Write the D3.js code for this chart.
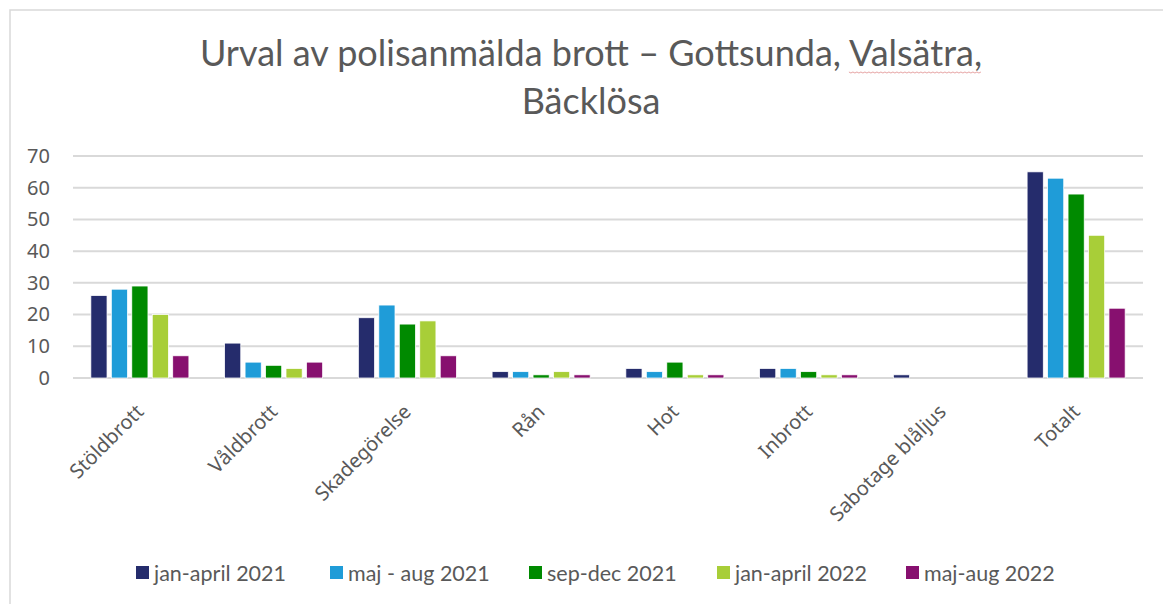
<!DOCTYPE html>
<html>
<head>
<meta charset="utf-8">
<script src="https://cdn.jsdelivr.net/npm/d3@7"></script>
<style>
  body { margin: 0; background: #fff; }
  svg { display: block; }
  .title { font-family: Lato, sans-serif; fill: #595959; }
  .legend text { font-family: Lato, sans-serif; fill: #595959; }
  .tick text { font-family: "Noto Sans", sans-serif; fill: #595959; }
</style>
</head>
<body>
<div id="chart"></div>
<script>
const categories = ['Stöldbrott', 'Våldbrott', 'Skadegörelse', 'Rån', 'Hot', 'Inbrott', 'Sabotage blåljus', 'Totalt'];
const seriesNames = ['jan-april 2021', 'maj - aug 2021', 'sep-dec 2021', 'jan-april 2022', 'maj-aug 2022'];
const janApr2021 = [26, 11, 19, 2, 3, 3, 1, 65];
const majAug2021 = [28, 5, 23, 2, 2, 3, 0, 63];
const sepDec2021 = [29, 4, 17, 1, 5, 2, 0, 58];
const janApr2022 = [20, 3, 18, 2, 1, 1, 0, 45];
const majAug2022 = [7, 5, 7, 1, 1, 1, 0, 22];
const yTicks = [0, 10, 20, 30, 40, 50, 60, 70];
const colors = ['#252c6c', '#1f9cd8', '#008a00', '#a8ce38', '#87106f'];

const seriesValues = [janApr2021, majAug2021, sepDec2021, janApr2022, majAug2022];

const W = 1163, H = 604;
const margin = { top: 156, right: 20, bottom: 226, left: 73 };
const width = 1143 - margin.left;
const height = H - margin.top - margin.bottom;

const svg = d3.select('#chart').append('svg')
  .attr('width', W)
  .attr('height', H);

// chart frame
svg.append('rect')
  .attr('x', 10).attr('y', 10)
  .attr('width', W + 10).attr('height', H + 10)
  .attr('fill', '#fff')
  .attr('stroke', '#d9d9d9')
  .attr('stroke-width', 1.5);

// title
const title = svg.append('text')
  .attr('class', 'title')
  .attr('text-anchor', 'middle')
  .style('font-size', '36px');
title.append('tspan').attr('x', 591).attr('y', 66)
  .text('Urval av polisanmälda brott – Gottsunda, Valsätra,');
title.append('tspan').attr('x', 591).attr('y', 114)
  .text('Bäcklösa');

// spell-check squiggle under "Valsätra"
const line1 = title.select('tspan').node();
const full = line1.textContent;
const start = full.indexOf('Valsätra');
const x0 = line1.getStartPositionOfChar(start).x;
const x1 = line1.getEndPositionOfChar(start + 'Valsätra,'.length - 1).x;
const wave = d3.range(x0, x1, 2).map((x, i) => [x, 72 + (i % 2 ? 1 : 0)]);
svg.append('path')
  .attr('d', d3.line()(wave))
  .attr('fill', 'none')
  .attr('stroke', '#e7a3a3')
  .attr('stroke-width', 1);

const g = svg.append('g')
  .attr('transform', `translate(${margin.left},${margin.top})`);

const x0Scale = d3.scaleBand()
  .domain(categories)
  .range([0, width])
  .paddingInner(0.267)
  .paddingOuter(0.1335);

const x1Scale = d3.scaleBand()
  .domain(seriesNames)
  .range([0, x0Scale.bandwidth()])
  .paddingInner(0.21);

const y = d3.scaleLinear().domain([0, 70]).range([height, 0]);

// gridlines
g.append('g')
  .selectAll('line')
  .data(yTicks)
  .join('line')
  .attr('x1', 0).attr('x2', width)
  .attr('y1', (d) => y(d)).attr('y2', (d) => y(d))
  .attr('stroke', '#d9d9d9')
  .attr('stroke-width', 2);

// y axis labels
const yAxis = g.append('g')
  .call(d3.axisLeft(y).tickValues(yTicks).tickSize(0).tickPadding(23));
yAxis.select('.domain').remove();
yAxis.selectAll('.tick text')
  .style('font-size', '20px')
  .attr('font-family', null);

// bars
const groups = g.append('g')
  .selectAll('g')
  .data(categories)
  .join('g')
  .attr('transform', (d) => `translate(${x0Scale(d)},0)`);

groups.selectAll('rect')
  .data((c, ci) => seriesNames.map((s, si) => ({ s, si, v: seriesValues[si][ci] })))
  .join('rect')
  .filter((d) => d.v > 0)
  .attr('x', (d) => x1Scale(d.s))
  .attr('y', (d) => y(d.v))
  .attr('width', x1Scale.bandwidth())
  .attr('height', (d) => y(0) - y(d.v))
  .attr('fill', (d) => colors[d.si])
  .attr('stroke', '#fff')
  .attr('stroke-width', 0.75);

// x axis labels
const xAxis = g.append('g')
  .attr('transform', `translate(0,${height})`)
  .call(d3.axisBottom(x0Scale).tickSize(0).tickPadding(0));
xAxis.select('.domain').remove();
xAxis.selectAll('.tick text')
  .attr('font-family', null)
  .style('font-size', '20px')
  .attr('text-anchor', 'end')
  .attr('dy', '0.35em')
  .attr('transform', 'translate(0,30) rotate(-45)');

// legend
const legendX = [136, 330, 529, 717, 906];
const legend = svg.append('g').attr('class', 'legend')
  .selectAll('g')
  .data(seriesNames)
  .join('g')
  .attr('transform', (d, i) => `translate(${legendX[i]},566)`);
legend.append('rect')
  .attr('width', 13).attr('height', 13)
  .attr('fill', (d, i) => colors[i]);
legend.append('text')
  .attr('x', 18).attr('y', 15)
  .style('font-size', '21.5px')
  .text((d) => d);
</script>
</body>
</html>
